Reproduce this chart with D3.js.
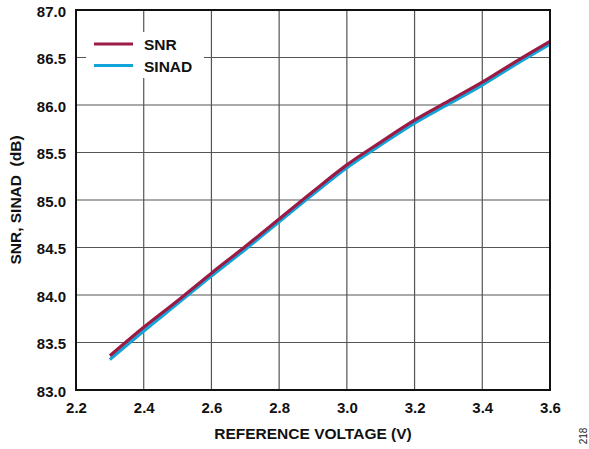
<!DOCTYPE html>
<html>
<head>
<meta charset="utf-8">
<script src="https://cdn.jsdelivr.net/npm/d3@7"></script>
<style>
  html, body { margin: 0; padding: 0; background: #fff; }
  svg { display: block; }
  text { font-family: "Liberation Sans", Arial, sans-serif; }
</style>
</head>
<body>
<svg id="chart" width="589" height="449"></svg>
<script>
const refVoltage = [2.3, 2.4, 2.5, 2.6, 2.7, 2.8, 2.9, 3.0, 3.1, 3.2, 3.3, 3.4, 3.5, 3.6];
const snr   = [83.36, 83.66, 83.94, 84.23, 84.51, 84.80, 85.09, 85.37, 85.61, 85.84, 86.04, 86.24, 86.46, 86.67];
const sinad = [83.32, 83.62, 83.91, 84.20, 84.48, 84.77, 85.06, 85.34, 85.58, 85.81, 86.01, 86.21, 86.43, 86.64];
const xTicks = [2.2, 2.4, 2.6, 2.8, 3.0, 3.2, 3.4, 3.6];
const yTicks = [83.0, 83.5, 84.0, 84.5, 85.0, 85.5, 86.0, 86.5, 87.0];
const seriesNames = ["SNR", "SINAD"];
const seriesColors = ["#9c1b44", "#12a3da"];

const svg = d3.select("#chart");
const margin = {left: 76, right: 39, top: 10, bottom: 59};
const W = 589, H = 449;
const x = d3.scaleLinear().domain([2.2, 3.6]).range([margin.left, W - margin.right]);
const y = d3.scaleLinear().domain([83, 87]).range([H - margin.bottom, margin.top]);

// grid
const grid = svg.append("g");
grid.selectAll("line.v").data(xTicks).enter().append("line")
  .attr("x1", d => x(d)).attr("x2", d => x(d))
  .attr("y1", y(83)).attr("y2", y(87))
  .attr("stroke", "#555").attr("stroke-width", 1.2);
grid.selectAll("line.h").data(yTicks).enter().append("line")
  .attr("x1", x(2.2)).attr("x2", x(3.6))
  .attr("y1", d => y(d)).attr("y2", d => y(d))
  .attr("stroke", "#555").attr("stroke-width", 1.2);

// axes (labels only)
const xAxis = d3.axisBottom(x).tickValues(xTicks).tickFormat(d3.format(".1f")).tickSize(0).tickPadding(12);
const gx = svg.append("g").attr("transform", `translate(0,${y(83)})`).call(xAxis);
gx.select(".domain").remove();
gx.selectAll("text").attr("font-size", 15).attr("font-weight", "bold").attr("fill", "#111")
  .attr("font-family", "Liberation Sans, Arial, sans-serif");

const yAxis = d3.axisLeft(y).tickValues(yTicks).tickFormat(d3.format(".1f")).tickSize(0).tickPadding(10);
const gy = svg.append("g").attr("transform", `translate(${x(2.2)},0)`).call(yAxis);
gy.select(".domain").remove();
gy.selectAll("text").attr("font-size", 15).attr("font-weight", "bold").attr("fill", "#111")
  .attr("font-family", "Liberation Sans, Arial, sans-serif").attr("dy", "0.42em");

// legend background
const lg = svg.append("g");
lg.append("rect").attr("x", 86).attr("y", 32).attr("width", 118).attr("height", 46).attr("fill", "#fff");

// lines
const rows = refVoltage.map((v, i) => ({v, snr: snr[i], sinad: sinad[i]}));
const lineGen = key => d3.line().x(d => x(d.v)).y(d => y(d[key])).curve(d3.curveMonotoneX);
svg.append("path").datum(rows).attr("d", lineGen("sinad"))
  .attr("fill", "none").attr("stroke", seriesColors[1]).attr("stroke-width", 3.2);
svg.append("path").datum(rows).attr("d", lineGen("snr"))
  .attr("fill", "none").attr("stroke", seriesColors[0]).attr("stroke-width", 3.2);

// legend
seriesNames.forEach((name, i) => {
  const ly = 44 + i * 21.5;
  lg.append("line").attr("x1", 94).attr("x2", 133).attr("y1", ly).attr("y2", ly)
    .attr("stroke", seriesColors[i]).attr("stroke-width", 3.2);
  lg.append("text").attr("x", 144).attr("y", ly + 6).text(name)
    .attr("font-size", 15.5).attr("font-weight", "bold").attr("fill", "#111");
});

// frame
svg.append("rect").attr("x", x(2.2)).attr("y", y(87))
  .attr("width", x(3.6) - x(2.2)).attr("height", y(83) - y(87))
  .attr("fill", "none").attr("stroke", "#111").attr("stroke-width", 2);

// titles
svg.append("text").attr("x", (x(2.2) + x(3.6)) / 2).attr("y", 439)
  .attr("text-anchor", "middle").attr("font-size", 15.5).attr("font-weight", "bold").attr("fill", "#111")
  .text("REFERENCE VOLTAGE (V)");
svg.append("text").attr("transform", `translate(21,${(y(83) + y(87)) / 2}) rotate(-90)`)
  .attr("text-anchor", "middle").attr("font-size", 15.5).attr("font-weight", "bold").attr("fill", "#111")
  .attr("xml:space", "preserve").style("white-space", "pre")
  .text("SNR, SINAD  (dB)");
svg.append("text").attr("transform", `translate(587,436) rotate(-90)`)
  .attr("text-anchor", "middle").attr("font-size", 10).attr("fill", "#222")
  .text("218");
</script>
</body>
</html>
